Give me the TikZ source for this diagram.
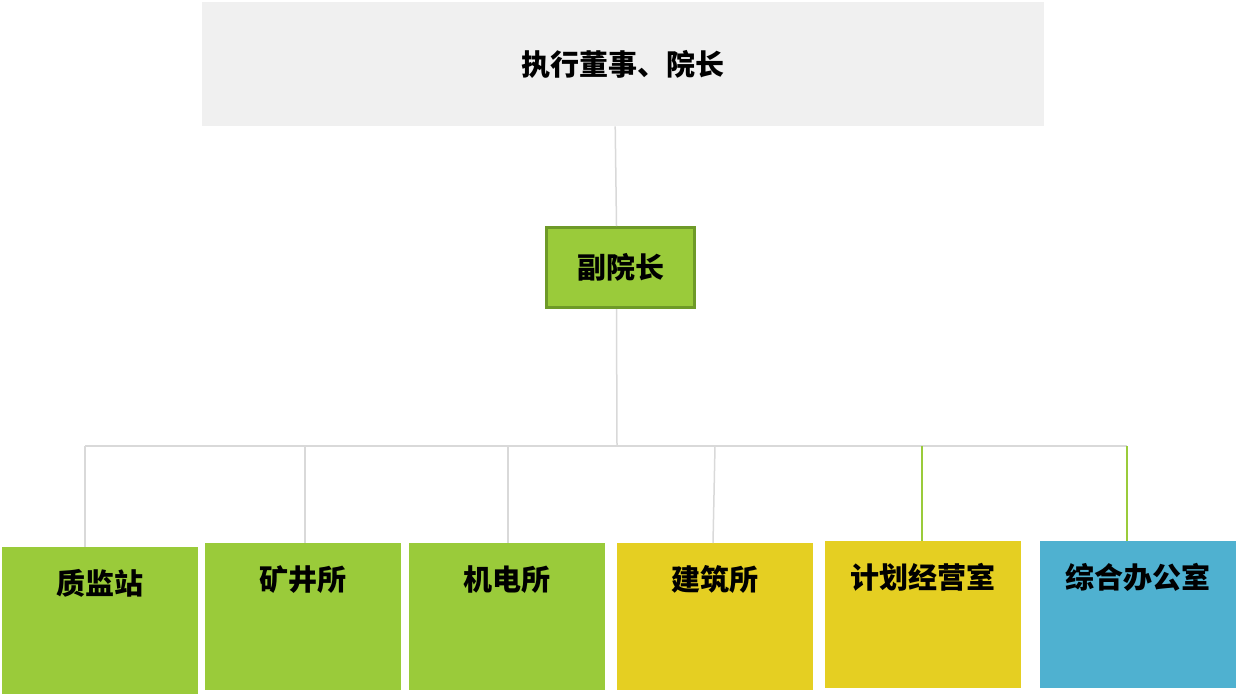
\documentclass[tikz,border=0pt]{standalone}
\usepackage{fontspec}
\newfontfamily\cjk{Noto Sans CJK SC}
\usepackage{tikz}
\definecolor{headgray}{HTML}{F0F0F0}
\definecolor{unitgreen}{HTML}{9ACB3A}
\definecolor{edgegreen}{HTML}{6E9A28}
\definecolor{unityellow}{HTML}{E5CF22}
\definecolor{unitblue}{HTML}{4FB1D0}
\definecolor{linkgray}{HTML}{D9D9D9}

\begin{document}
\begin{tikzpicture}[x=1pt, y=-1pt, every node/.style={font=\cjk\bfseries\fontsize{29}{32}\selectfont},
	unit/.style={anchor=north west, inner sep=0, minimum width=196, minimum height=147, text height=47, text depth=100},
	link/.style={draw=linkgray, line width=1.5pt},
	greenlink/.style={draw=unitgreen, line width=2pt}]
	\useasboundingbox (0,0) rectangle (1238,697);
	\node (head) [fill=headgray, anchor=north west, minimum width=842, minimum height=124] at (202,2) {执行董事、院长};
	\node (vice) [fill=unitgreen, draw=edgegreen, line width=3pt, minimum width=148, minimum height=80] at (620.5,267.5) {副院长};
	% departments
	\node (zj) [unit, fill=unitgreen, minimum height=147] at (2,547) {质监站};
	\node (kj) [unit, fill=unitgreen] at (205,543) {矿井所};
	\node (jd) [unit, fill=unitgreen] at (409,543) {机电所};
	\node (jz) [unit, fill=unityellow] at (617,543) {建筑所};
	\node (jh) [unit, fill=unityellow] at (825,541) {计划经营室};
	\node (zh) [unit, fill=unitblue] at (1040,541) {综合办公室};
	% connectors
	\coordinate (bus) at (617,446);
	\coordinate (b1) at (85,446);
	\coordinate (b2) at (305,446);
	\coordinate (b3) at (508,446);
	\coordinate (b4) at (715,446);
	\coordinate (b5) at (922,446);
	\coordinate (b6) at (1127,446);
	\draw[link] ([xshift=-8]head.south) -- ([xshift=-4]vice.north);
	\draw[link] ([xshift=-4]vice.south) -- (bus);
	\draw[link] (b1) -- (b6);
	\draw[link] (b1) -- (b1 |- zj.north);
	\draw[link] (b2) -- (b2 |- kj.north);
	\draw[link] (b3) -- (b3 |- jd.north);
	\draw[link] (b4) -- ([xshift=-2]b4 |- jz.north);
	\draw[greenlink] (b5) -- (b5 |- jh.north);
	\draw[greenlink] (b6) -- (b6 |- zh.north);
\end{tikzpicture}
\end{document}
